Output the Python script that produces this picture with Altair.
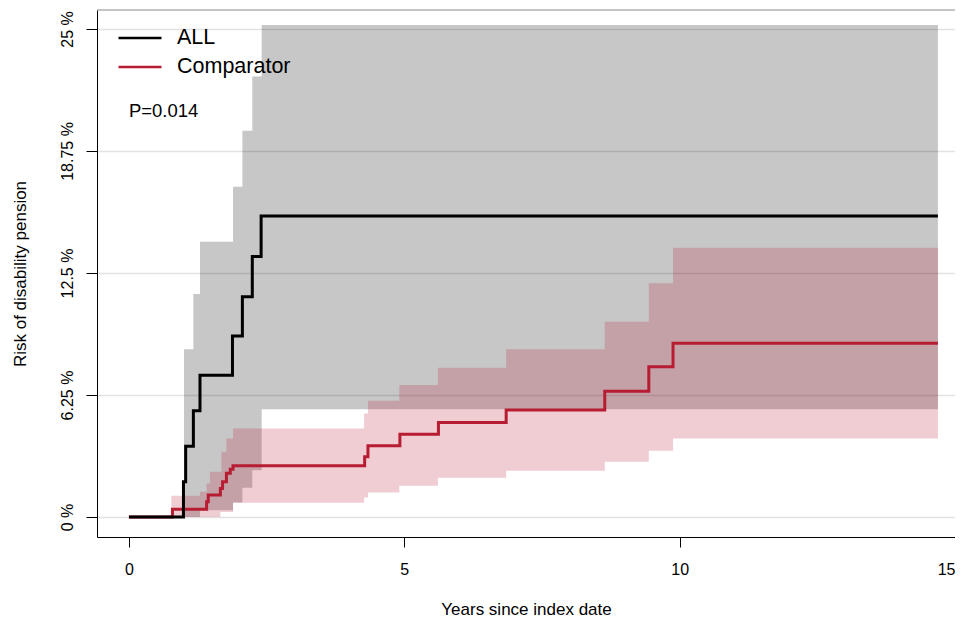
import altair as alt
import pandas as pd

# ---- data (years since index date, risk in %) ----
all_t = [0.0, 0.99, 1.03, 1.17, 1.29, 1.88, 2.06, 2.24, 2.40, 14.69]
all_risk = [0.0, 1.81, 3.63, 5.45, 7.27, 9.27, 11.29, 13.34, 15.42, 15.42]

all_ci_t = [1.0, 1.17, 1.29, 1.89, 2.06, 2.24, 2.41, 14.69]
all_lo = [0.0, 0.0, 0.35, 0.75, 1.5, 2.4, 5.52, 5.52]
all_hi = [8.59, 11.42, 14.1, 16.92, 19.79, 22.56, 25.2, 25.2]

cmp_t = [0.0, 0.79, 1.41, 1.44, 1.66, 1.70, 1.77, 1.84, 1.89, 4.28, 4.34,
         4.92, 5.62, 6.85, 8.64, 9.44, 9.88, 14.69]
cmp_risk = [0.0, 0.40, 0.78, 1.13, 1.47, 1.81, 2.24, 2.45, 2.63, 3.09, 3.65,
            4.24, 4.85, 5.48, 6.44, 7.70, 8.90, 8.90]

cmp_ci_t = [0.77, 1.29, 1.41, 1.47, 1.66, 1.68, 1.77, 1.89, 4.27, 4.34, 4.91,
            5.61, 6.85, 8.64, 9.44, 9.88, 14.69]
cmp_lo = [0.0, 0.0, 0.0, 0.0, 0.26, 0.26, 0.26, 0.73, 1.0, 1.26, 1.6,
          2.01, 2.37, 2.83, 3.4, 4.03, 4.03]
cmp_hi = [1.09, 1.3, 1.72, 2.32, 2.32, 3.35, 4.03, 4.54, 5.31, 5.96, 6.76,
          7.65, 8.59, 10.0, 11.97, 13.8, 13.8]

groups = ["ALL", "Comparator"]
x_ticks = [0, 5, 10, 15]
y_ticks = [0, 6.25, 12.5, 18.75, 25]
p_text = ["P=0.014"]
p_x = [0.0]
p_y = [20.8]

BLACK = "#000000"
RED = "#B71C32"
FONT = "Liberation Sans"

all_line = pd.DataFrame({"t": all_t, "risk": all_risk, "group": groups[0]})
cmp_line = pd.DataFrame({"t": cmp_t, "risk": cmp_risk, "group": groups[1]})
all_band = pd.DataFrame({"t": all_ci_t, "lo": all_lo, "hi": all_hi})
cmp_band = pd.DataFrame({"t": cmp_ci_t, "lo": cmp_lo, "hi": cmp_hi})
p_df = pd.DataFrame({"t": p_x, "risk": p_y, "label": p_text})

W, H = 858, 527

x_scale = alt.Scale(domain=[-0.58, 15.0], nice=False, zero=False)
y_scale = alt.Scale(domain=[-1.02, 25.97], nice=False, zero=False)

x_axis = alt.Axis(values=x_ticks, title="Years since index date", grid=False,
                  tickSize=10, labelPadding=14, titlePadding=24,
                  labelFontSize=16, titleFontSize=17, format="d",
                  labelFlush=True)
y_axis = alt.Axis(values=y_ticks, title="Risk of disability pension", grid=True,
                  gridColor="#e2e2e2", gridWidth=1.5,
                  tickSize=11, labelPadding=11, labelAngle=270,
                  labelAlign="center", labelBaseline="bottom",
                  labelExpr="datum.value + ' %'", titlePadding=30,
                  labelFontSize=16, titleFontSize=17)

X = alt.X("t:Q", scale=x_scale, axis=x_axis)
Y = alt.Y("lo:Q", scale=y_scale, axis=y_axis)

gray_band = alt.Chart(all_band).mark_area(
    interpolate="step-after", color=BLACK, opacity=0.22
).encode(x=X, y=Y, y2="hi:Q")

pink_band = alt.Chart(cmp_band).mark_area(
    interpolate="step-after", color=RED, opacity=0.22
).encode(x=X, y=Y, y2="hi:Q")

color = alt.Color(
    "group:N",
    scale=alt.Scale(domain=groups, range=[BLACK, RED]),
    legend=alt.Legend(title=None, orient="none", legendX=31, legendY=16,
                      symbolType="M-2,0H2", symbolSize=462,
                      symbolStrokeWidth=2.5, labelFontSize=21.5, labelFont=FONT,
                      labelOffset=25, padding=0, rowPadding=6,
                      labelColor="#000000"),
)

YL = alt.Y("risk:Q", scale=y_scale, axis=y_axis)

red_line = alt.Chart(cmp_line).mark_line(
    interpolate="step-after", strokeWidth=3
).encode(x=X, y=YL, color=color)

black_line = alt.Chart(all_line).mark_line(
    interpolate="step-after", strokeWidth=3
).encode(x=X, y=YL, color=color)

p_mark = alt.Chart(p_df).mark_text(
    align="left", baseline="middle", fontSize=18.5, font=FONT, color="#000000"
).encode(x=alt.X("t:Q", scale=x_scale), y=alt.Y("risk:Q", scale=y_scale),
         text="label:N")

top_border = alt.Chart(p_df).mark_rule(color="#8a8a8a", strokeWidth=1).encode(
    x=alt.value(0), x2=alt.value(W), y=alt.value(0)
)

chart = alt.layer(
    gray_band, pink_band, red_line, black_line, p_mark, top_border
).properties(
    width=W, height=H,
    autosize=alt.AutoSizeParams(type="none"),
    padding={"left": 89, "top": 2, "right": 0, "bottom": 80},
).configure_view(stroke=None).configure_axis(
    labelFont=FONT, titleFont=FONT, titleFontWeight="normal",
    labelColor="#000000", titleColor="#000000",
    domainColor="#000000", tickColor="#000000", domainWidth=1, tickWidth=1,
)

chart.save("out.html", embed_options={"renderer": "svg", "actions": False})
